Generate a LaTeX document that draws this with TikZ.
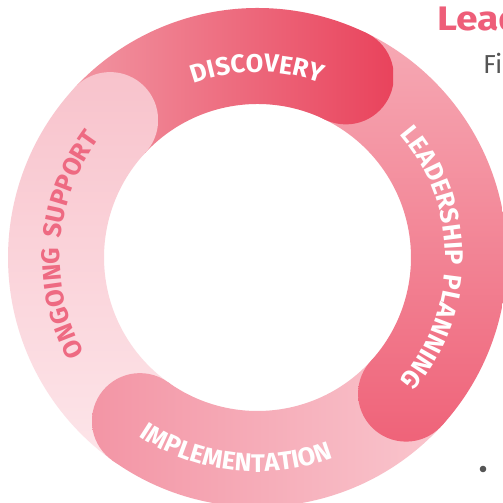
\documentclass[tikz,border=0pt]{standalone}
\usepackage{fontspec}
\setmainfont{Fira Sans}
\newfontfamily\rfA[LetterSpace=8]{Fira Sans}
\newfontfamily\rfB[LetterSpace=12]{Fira Sans}
\newfontfamily\rfC[LetterSpace=25]{Fira Sans}
\usetikzlibrary{decorations.text}
\definecolor{discL}{HTML}{F29BA7}
\definecolor{discR}{HTML}{E9435C}
\definecolor{leadT}{HTML}{F6AAB5}
\definecolor{leadB}{HTML}{EF6379}
\definecolor{implL}{HTML}{F395A5}
\definecolor{implR}{HTML}{FACBD2}
\definecolor{ongT}{HTML}{F8C3CC}
\definecolor{ongB}{HTML}{FDE6EA}
\definecolor{ongText}{HTML}{EE6A82}
\definecolor{titleRed}{HTML}{EE5E79}
\definecolor{bodyGray}{HTML}{555555}
\newcommand\ringbody[2]{(#1:249.5) arc[start angle=#1, end angle=#2, radius=249.5pt] -- (#2:153.5) arc[start angle=#2, end angle=#1, radius=153.5pt] -- cycle}
\tikzset{
  ringlabel/.style n args={3}{decorate, decoration={text along path, text align=center, text color=#1,
     text={|#2\bfseries\fontsize{25.5}{25.5}\selectfont|#3}}},
}
\begin{document}
\begin{tikzpicture}[x=1pt,y=1pt]
\useasboundingbox (0,0) rectangle (503,503);
\clip (0,0) rectangle (503,503);
\fill[white] (0,0) rectangle (503,503);
\node[anchor=base west, inner sep=0, text=titleRed, font=\bfseries\fontsize{34}{34}\selectfont] (title) at (437,472) {\scalebox{1.15}[1]{Lead}};
\node[anchor=base west, inner sep=0, text=bodyGray, font=\fontsize{26}{26}\selectfont] (sub) at (483,429) {Fi};
\fill[bodyGray] (483,34) circle (3.3);
\begin{scope}[shift={(257.5,245.5)}]
  % bodies
  \begin{scope}\clip \ringbody{137}{64};
    \shade[left color=discL, right color=discR] (-207.5,-260) rectangle (135.5,260);\end{scope}
  \begin{scope}\clip \ringbody{64}{-42.5};
    \shade[top color=leadT, bottom color=leadB] (-260,227.5) rectangle (260,-184.5);\end{scope}
  \begin{scope}\clip \ringbody{-42.5}{-125.7};
    \shade[left color=implL, right color=implR] (-165.5,-260) rectangle (222.5,260);\end{scope}
  \begin{scope}\clip \ringbody{234.3}{137};
    \shade[top color=ongT, bottom color=ongB] (-260,185.5) rectangle (260,-212.5);\end{scope}
  % caps
  \begin{scope}\clip (64:201.5) circle (48);
    \shade[left color=discL, right color=discR] (-207.5,-260) rectangle (135.5,260);\end{scope}
  \begin{scope}\clip (-42.5:201.5) circle (48);
    \shade[top color=leadT, bottom color=leadB] (-260,227.5) rectangle (260,-184.5);\end{scope}
  \begin{scope}\clip (-125.7:201.5) circle (48);
    \shade[left color=implL, right color=implR] (-165.5,-260) rectangle (222.5,260);\end{scope}
  \begin{scope}\clip (137:201.5) circle (48);
    \shade[top color=ongT, bottom color=ongB] (-260,185.5) rectangle (260,-212.5);\end{scope}
  % labels
  \path[ringlabel={white}{\rfA}{DISCOVERY}] (140:185.5) arc[start angle=140, end angle=40, radius=185.5pt];
  \path[ringlabel={white}{\rfB}{LEADERSHIP PLANNING}] (60:188) arc[start angle=60, end angle=-60, radius=188pt];
  \path[ringlabel={white}{\rfC}{IMPLEMENTATION}] (-146.4:214.5) arc[start angle=-146.4, end angle=-46.4, radius=214.5pt];
  \path[ringlabel={ongText}{\rfB}{ONGOING SUPPORT}] (225.9:197.5) arc[start angle=225.9, end angle=125.9, radius=197.5pt];
\end{scope}
\end{tikzpicture}
\end{document}
